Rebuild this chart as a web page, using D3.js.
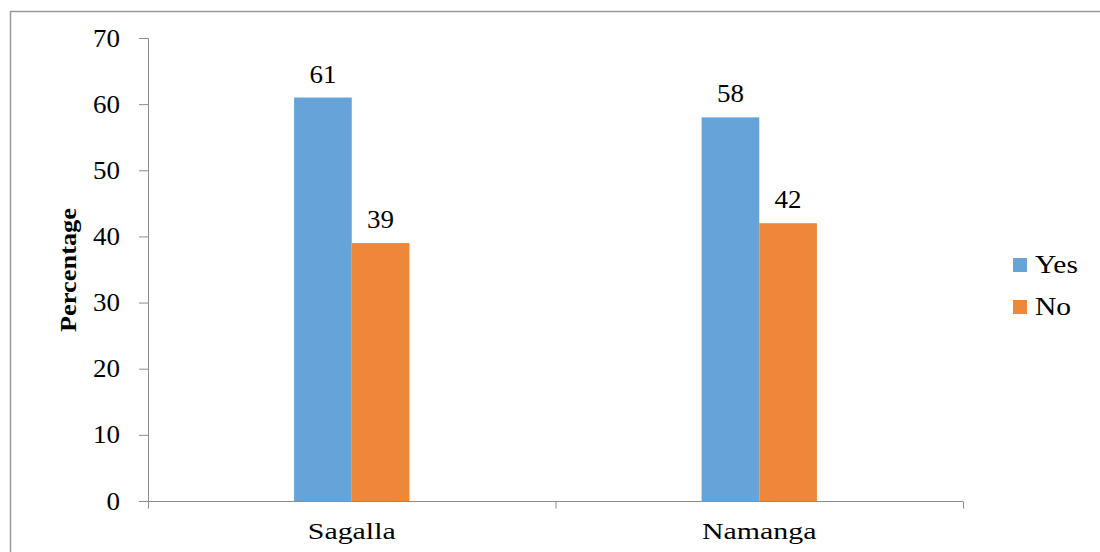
<!DOCTYPE html>
<html>
<head>
<meta charset="utf-8">
<script src="https://cdn.jsdelivr.net/npm/d3@7/dist/d3.min.js"></script>
<style>
  html, body { margin: 0; padding: 0; background: #fff; }
  svg { display: block; }
  text { font-family: "Liberation Serif", "Times New Roman", serif; fill: #000; }
</style>
</head>
<body>
<svg id="chart" width="1100" height="552"></svg>
<script>
// Survey responses by site (percentage)
const categories = ["Sagalla", "Namanga"];
const seriesNames = ["Yes", "No"];
const yesValues = [61, 58];
const noValues = [39, 42];
const yTicks = [0, 10, 20, 30, 40, 50, 60, 70];
const colors = ["#65A3D9", "#EF873A"];

const svg = d3.select("#chart");
const axisColor = "#8c8c8c";
const serif = "'Liberation Serif', 'Times New Roman', serif";

// Outer frame of the chart area
svg.append("rect")
  .attr("x", 10.5).attr("y", 11.5)
  .attr("width", 1200).attr("height", 700)
  .attr("fill", "none").attr("stroke", "#9a9a9a").attr("stroke-width", 1.5);

const plotLeft = 148, plotRight = 963, plotTop = 38, plotBottom = 501;

const x = d3.scaleBand().domain(categories).range([plotLeft, plotRight]).paddingInner(0).paddingOuter(0);
const y = d3.scaleLinear().domain([0, 70]).range([plotBottom, plotTop]);

const groupWidth = x.bandwidth() * 0.283;
const xs = d3.scaleBand().domain(seriesNames).range([0, groupWidth]);

// Text placed at (px, py) and widened horizontally by sx
function wideText(parent, px, py, sx, size, anchor, str) {
  return parent.append("text")
    .attr("transform", `translate(${px},${py}) scale(${sx},1)`)
    .attr("text-anchor", anchor)
    .style("font-family", serif)
    .style("font-size", size + "px")
    .text(str);
}

// Y axis
const yAxis = svg.append("g")
  .attr("transform", `translate(${plotLeft},0)`)
  .call(d3.axisLeft(y).tickValues(yTicks).tickSize(9).tickFormat(""));
yAxis.select(".domain").attr("stroke", axisColor).attr("d", `M-9,${plotTop + 0.5}H0.5V${plotBottom}`);
yAxis.selectAll(".tick line").attr("stroke", axisColor);
yAxis.selectAll(".tick text").remove();
yTicks.forEach(t => {
  wideText(yAxis, -28, y(t) + 8.5, 1.08, 25, "end", String(t));
});

// X axis with ticks at category boundaries
const xAxisG = svg.append("g").attr("transform", `translate(0,${plotBottom + 0.5})`);
xAxisG.append("line")
  .attr("x1", plotLeft).attr("x2", plotRight)
  .attr("stroke", axisColor);
const boundaries = [plotLeft].concat(categories.map(c => x(c) + x.bandwidth()));
xAxisG.selectAll("line.tk").data(boundaries).join("line")
  .attr("class", "tk")
  .attr("x1", d => d + 0.5).attr("x2", d => d + 0.5)
  .attr("y1", 0).attr("y2", 7)
  .attr("stroke", axisColor);
categories.forEach(c => {
  wideText(xAxisG, x(c) + x.bandwidth() / 2, 37, 1.3, 23, "middle", c);
});

// Bars
const rows = categories.map((c, i) => ({ category: c, values: [yesValues[i], noValues[i]] }));
const groups = svg.selectAll("g.grp").data(rows).join("g")
  .attr("class", "grp")
  .attr("transform", d => `translate(${x(d.category) + (x.bandwidth() - groupWidth) / 2},0)`);

groups.selectAll("rect").data(d => d.values.map((v, j) => ({ name: seriesNames[j], value: v, j })))
  .join("rect")
  .attr("x", d => xs(d.name))
  .attr("y", d => y(d.value))
  .attr("width", xs.bandwidth())
  .attr("height", d => plotBottom - y(d.value))
  .attr("fill", d => colors[d.j]);

groups.each(function(d) {
  const g = d3.select(this);
  d.values.forEach((v, j) => {
    wideText(g, xs(seriesNames[j]) + xs.bandwidth() / 2, y(v) - 15, 1.08, 25, "middle", String(v));
  });
});

// Y axis title
svg.append("text")
  .attr("transform", "translate(76,270) rotate(-90) scale(1.1,1)")
  .attr("text-anchor", "middle")
  .style("font-family", serif)
  .style("font-size", "24px")
  .style("font-weight", "bold")
  .text("Percentage");

// Legend
const legend = svg.append("g").attr("transform", "translate(1013,258)");
seriesNames.forEach((name, i) => {
  const g = legend.append("g").attr("transform", `translate(0,${i * 42})`);
  g.append("rect").attr("width", 14).attr("height", 14).attr("fill", colors[i]);
  wideText(g, 22, 15, 1.18, 25, "start", name);
});
</script>
</body>
</html>
